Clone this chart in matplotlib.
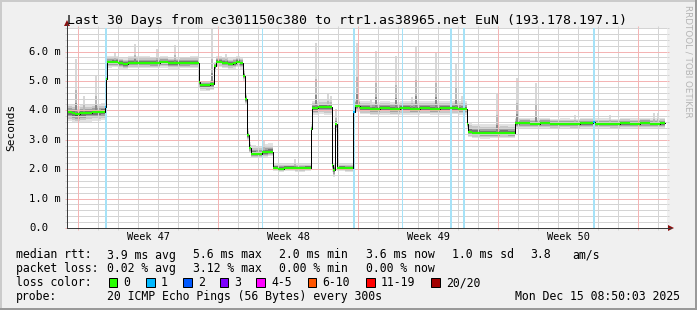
import numpy as np
import matplotlib
matplotlib.use('Agg')
import matplotlib.pyplot as plt
from matplotlib.patches import Rectangle, Polygon
from matplotlib.lines import Line2D

W, H = 697, 310

# ---------------- data ----------------
med_day = [0.00, 0.25, 0.40, 0.65, 0.95, 1.25, 1.55, 1.70, 1.875, 1.95,
           2.02, 2.25, 2.55, 2.80, 3.05, 3.65, 4.15, 4.65, 5.05, 5.65, 6.15, 6.62,
           6.67, 6.95, 7.15, 7.37,
           7.45, 7.75, 8.05, 8.30, 8.45, 8.65, 8.775, 8.875, 9.00, 9.10,
           9.20, 9.45, 9.75, 10.05, 10.275,
           10.55, 10.85, 11.40, 11.90, 12.175,
           12.25, 12.55, 12.85, 13.225, 13.275, 13.375, 13.50,
           13.90, 14.275,
           14.375, 14.65, 15.15, 15.65, 16.15, 16.65, 17.15, 17.65, 18.15, 18.65, 19.15, 19.55, 19.975,
           20.025, 20.25, 20.65, 21.15, 21.65, 22.05, 22.375,
           22.65, 23.15, 23.65, 24.15, 24.65, 25.15, 25.65, 26.275, 26.375, 27.15, 27.65, 28.15, 28.65, 29.15, 29.65]
med_val = [3.93, 3.90, 3.86, 3.90, 3.92, 3.94, 3.93, 3.96, 4.10, 5.07,
           5.63, 5.64, 5.60, 5.57, 5.62, 5.62, 5.61, 5.63, 5.60, 5.61, 5.62, 4.95,
           4.86, 4.85, 4.88, 5.50,
           5.65, 5.62, 5.58, 5.60, 5.64, 5.60, 5.18, 4.38, 3.15, 2.72,
           2.53, 2.52, 2.57, 2.60, 2.05,
           2.02, 2.05, 2.04, 2.05, 3.37,
           4.08, 4.11, 4.10, 2.15, 1.97, 3.52, 2.05,
           2.04, 3.93,
           4.15, 4.08, 4.05, 4.07, 4.05, 4.07, 4.06, 4.08, 4.06, 4.07, 4.08, 4.06, 3.55,
           3.27, 3.24, 3.22, 3.23, 3.24, 3.23, 3.56,
           3.57, 3.55, 3.57, 3.54, 3.55, 3.54, 3.56, 3.62, 3.55, 3.54, 3.56, 3.55, 3.57, 3.55, 3.56]
end_day = 29.9

seg_start = [0.0, 2.0, 6.6, 7.4, 9.15, 10.25, 12.2, 13.45, 14.3, 19.95, 22.35]
seg_up = [0.28, 0.22, 0.15, 0.20, 0.28, 0.15, 0.25, 0.15, 0.25, 0.30, 0.18]
seg_dn = [0.30, 0.18, 0.20, 0.18, 0.15, 0.12, 0.25, 0.12, 0.22, 0.18, 0.18]

spike_day = [0.45, 0.85, 1.45, 2.40, 3.40, 4.50, 5.40, 7.26, 7.95, 9.85, 11.40,
             12.435, 13.05, 13.20, 13.435, 14.485, 15.20, 15.435, 16.435, 17.25,
             17.435, 18.435, 19.45, 19.75, 21.485, 22.485, 23.45, 25.40, 27.15,
             29.35, 29.55]
spike_top = [5.73, 4.50, 5.17, 5.96, 6.24, 6.07, 6.22, 6.80, 5.90, 2.95, 2.35,
             6.30, 4.55, 4.50, 4.03, 6.30, 4.40, 6.02, 5.85, 4.45,
             6.20, 5.96, 5.62, 4.50, 4.60, 5.10, 4.92, 3.85, 3.85,
             3.90, 3.90]

loss_day = [1.875, 14.275, 26.275]
loss_n = [1, 1, 1]

lossline_day = [1.95, 9.75, 14.35, 16.75, 19.20, 19.85, 26.35]
lossline_px = [2, 1, 2, 1, 2, 2, 2]

week_start_day = [0.55, 7.55, 14.55, 21.55, 28.55]
week_labels = ['Week 47', 'Week 48', 'Week 49', 'Week 50']
y_ticks = [0, 1, 2, 3, 4, 5, 6]
y_labels = ['0.0', '1.0 m', '2.0 m', '3.0 m', '4.0 m', '5.0 m', '6.0 m']

legend_names = ['0', '1', '2', '3', '4-5', '6-10', '11-19', '20/20']
legend_colors = ['#26ff00', '#00b8ff', '#0059ff', '#7e00ff', '#ff00ff', '#ff5500', '#ff0000', '#a10000']

title = 'Last 30 Days from ec301150c380 to rtr1.as38965.net EuN (193.178.197.1)'
rtt_stats = ['3.9 ms avg', '5.6 ms max', '2.0 ms min', '3.6 ms now', '1.0 ms sd', '3.8', 'am/s']
loss_stats = ['0.02 % avg', '3.12 % max', '0.00 % min', '0.00 % now']
probe_text = '20 ICMP Echo Pings (56 Bytes) every 300s'
date_text = 'Mon Dec 15 08:50:03 2025'

# ---------------- style ----------------
MONO = 'DejaVu Sans Mono'
BACK = '#f0f0f0'
AXIS = '#3c3c3c'
PX = 72.0 / 100.0  # points per pixel
GRID = '#d4d4d4'
MGRID = '#f4b4b4'

def fpx(x, y):
    return (x / W, 1 - y / H)

fig = plt.figure(figsize=(W / 100, H / 100), dpi=100, facecolor=BACK)
L, R, T, B = 67, 667, 28, 228
ax = fig.add_axes([L / W, 1 - B / H, (R - L) / W, (B - T) / H])
ax.set_facecolor('white')
ax.set_xlim(0, 30)
ax.set_ylim(0, 6.8)
for s in ax.spines.values():
    s.set_visible(False)

# ticks (grid coloured, outside, on all sides)
ax.set_yticks(y_ticks)
ax.set_yticks(np.arange(0, 6.81, 0.2), minor=True)
ax.set_xticks(week_start_day)
ax.set_xticks(np.arange(week_start_day[0], 30, 1.0), minor=True)
ax.tick_params(which='both', direction='out', length=2 * PX, width=PX,
               left=True, right=True, top=True, bottom=True,
               labelleft=False, labelbottom=False)
ax.tick_params(which='major', color=MGRID)
ax.tick_params(which='minor', color=GRID)

# ---------------- smoke ----------------
md = np.array(med_day)
mv = np.array(med_val)
seg_idx = np.searchsorted(seg_start, md, side='right') - 1
up = np.array(seg_up)[seg_idx]
dn = np.array(seg_dn)[seg_idx]
t = np.append(md, end_day)

def ext(a):
    return np.append(a, a[-1])

layers = [(1.0, '#e2e2e2'), (0.72, '#c8c8c8'), (0.48, '#a2a2a2'), (0.28, '#747474'), (0.12, '#444444')]
for f, c in layers:
    ax.fill_between(t, ext(mv - dn * f), ext(mv + up * f), step='post', color=c, lw=0, zorder=2)

# spikes
sd = np.array(spike_day)
st = np.array(spike_top)
base = mv[np.searchsorted(md, sd, side='right') - 1]
hgt = st - base
ax.vlines(sd, base, st, colors='#d4d4d4', lw=1.8 * PX, zorder=2.5)
ax.vlines(sd, base, base + hgt * 0.45, colors='#b4b4b4', lw=1.8 * PX, zorder=2.6)
ax.vlines(sd, base, base + hgt * 0.2, colors='#858585', lw=1.8 * PX, zorder=2.7)

# grid (dotted, drawn above smoke)
gkw = dict(lw=PX, ls=(0, (1, 1)), antialiased=False)
for y in np.arange(0, 6.81, 0.2):
    if abs(y - round(y)) > 1e-6:
        ax.axhline(y, color=GRID, zorder=3, **gkw)
for x in np.arange(week_start_day[0], 30, 1.0):
    if min(abs(x - w) for w in week_start_day) > 1e-6:
        ax.axvline(x, color=GRID, zorder=3, **gkw)
for y in y_ticks[1:]:
    ax.axhline(y, color=MGRID, zorder=3.1, **gkw)
for x in week_start_day:
    ax.axvline(x, color=MGRID, zorder=3.1, **gkw)

# loss vertical lines
for d, w in zip(lossline_day, lossline_px):
    ax.axvline(d, color='#a6e2f7', lw=w * PX, zorder=3.5)

# median: black step line + loss-coloured horizontal pieces
ax.step(t, ext(mv), where='post', color='black', lw=1.0 * PX, zorder=4)
colors = []
for d in md:
    n = 0
    for ld, ln in zip(loss_day, loss_n):
        if abs(ld - d) < 1e-6:
            n = ln
    colors.append(legend_colors[1] if n == 1 else legend_colors[0])
ax.hlines(mv, t[:-1], t[1:], colors=colors, lw=2.2 * PX, zorder=5)

# ---------------- axes lines & arrows ----------------
fig.add_artist(Line2D([fpx(L, B)[0], fpx(L, 24)[0]], [fpx(L, B)[1], fpx(L, 24)[1]], color=AXIS, lw=PX))
fig.add_artist(Line2D([fpx(L, B)[0], fpx(671, B)[0]], [fpx(L, B)[1], fpx(671, B)[1]], color=AXIS, lw=PX))
fig.add_artist(Polygon([fpx(64, 26), fpx(70, 26), fpx(67, 20)], closed=True, color='#8b1010', lw=0))
fig.add_artist(Polygon([fpx(668, 225), fpx(668, 231), fpx(674, 228)], closed=True, color='#8b1010', lw=0))

# ---------------- text ----------------
for y, lab in zip(y_ticks, y_labels):
    ax.text((29 - L) / (R - L), y, lab, transform=ax.get_yaxis_transform(), ha='left', va='center',
            fontsize=7.6, family=MONO, color='black')
for i, lab in enumerate(week_labels):
    xm = (week_start_day[i] + week_start_day[i + 1]) / 2
    ax.text(xm, -12 / (B - T), lab, transform=ax.get_xaxis_transform(), ha='center', va='baseline',
            fontsize=7.4, family=MONO, color='black')

fig.text(*fpx(347, 24), title, ha='center', va='baseline', fontsize=9.55, family=MONO)
fig.text(*fpx(11, 127), 'Seconds', ha='center', va='center', rotation=90, fontsize=8.0, family=MONO)
fig.text(*fpx(688, 5), 'RRDTOOL / TOBI OETIKER', ha='center', va='top', rotation=270,
         fontsize=6.3, family='DejaVu Sans', color='#b4b4b4')

LF = 8.3
rows = [258.5, 272.3, 286.0, 300.0]
fig.text(*fpx(16, rows[0]), 'median rtt:', ha='left', va='baseline', fontsize=LF, family=MONO)
for x, s in zip([107.3, 193.3, 279.3, 365.7, 451.7, 530, 572.7], rtt_stats):
    fig.text(*fpx(x, rows[0]), s, ha='left', va='baseline', fontsize=LF, family=MONO)
fig.text(*fpx(16, rows[1]), 'packet loss:', ha='left', va='baseline', fontsize=LF, family=MONO)
for x, s in zip([107.3, 193.3, 279.3, 365.7], loss_stats):
    fig.text(*fpx(x, rows[1]), s, ha='left', va='baseline', fontsize=LF, family=MONO)
fig.text(*fpx(16, rows[2]), 'loss color:', ha='left', va='baseline', fontsize=LF, family=MONO)
box_x = [108.5, 146, 183, 219.5, 256, 307.5, 366, 431]
for bx, name, c in zip(box_x, legend_names, legend_colors):
    x0, y0 = fpx(bx, rows[2] + 0.5)
    fig.add_artist(Rectangle((x0, y0), 8.5 / W, 8.5 / H, transform=fig.transFigure,
                             facecolor=c, edgecolor='black', lw=PX))
    fig.text(*fpx(bx + 15, rows[2]), name, ha='left', va='baseline', fontsize=LF, family=MONO)
fig.text(*fpx(16, rows[3]), 'probe:', ha='left', va='baseline', fontsize=LF, family=MONO)
fig.text(*fpx(107.3, rows[3]), probe_text, ha='left', va='baseline', fontsize=LF, family=MONO)
fig.text(*fpx(680, rows[3]), date_text, ha='right', va='baseline', fontsize=LF, family=MONO)

# frame shading
fig.add_artist(Rectangle((0, 1 - 2 / H), 1, 2 / H, transform=fig.transFigure, color='#cbcbcb', lw=0))
fig.add_artist(Rectangle((0, 0), 2 / W, 1, transform=fig.transFigure, color='#cbcbcb', lw=0))
fig.add_artist(Rectangle((0, 0), 1, 2 / H, transform=fig.transFigure, color='#999999', lw=0))
fig.add_artist(Rectangle((1 - 2 / W, 0), 2 / W, 1, transform=fig.transFigure, color='#999999', lw=0))

fig.savefig('out.png', dpi=100, facecolor=BACK)
